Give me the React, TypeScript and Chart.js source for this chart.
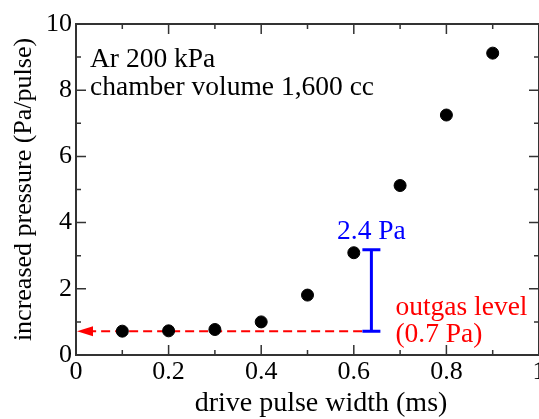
import React, { useEffect, useRef } from "react";
import { Chart, registerables } from "chart.js";

Chart.register(...registerables);

const pulseWidths = [0.1, 0.2, 0.3, 0.4, 0.5, 0.6, 0.7, 0.8, 0.9];
const pressures = [0.72, 0.73, 0.77, 1.0, 1.81, 3.09, 5.12, 7.25, 9.12];
const xTickValues = [0, 0.2, 0.4, 0.6, 0.8, 1];
const xTickLabels = ["0", "0.2", "0.4", "0.6", "0.8", "1"];
const yTickValues = [0, 2, 4, 6, 8, 10];
const yTickLabels = ["0", "2", "4", "6", "8", "10"];
const outgasLevel = 0.72;
const errorBarX = 0.638;
const errorBarTop = 3.18;
const xAxisTitle = "drive pulse width (ms)";
const yAxisTitle = "increased pressure (Pa/pulse)";
const annotationLines = ["Ar 200 kPa", "chamber volume 1,600 cc"];
const errorBarLabel = "2.4 Pa";
const outgasLines = ["outgas level", "(0.7 Pa)"];

const FONT = '"Liberation Serif", Tinos, "Times New Roman", Times, serif';
const TICK_FS = 26;
const TEXT_FS = 27.5;

const framePlugin = {
  id: "framePlugin",
  afterDraw(chart: any) {
    const { ctx, chartArea: a, scales } = chart;
    const xs = scales.x;
    const ys = scales.y;
    ctx.save();
    ctx.strokeStyle = "#333";
    ctx.lineWidth = 2;
    ctx.strokeRect(a.left, a.top, a.right - a.left, a.bottom - a.top);
    ctx.lineWidth = 1.5;
    ctx.beginPath();
    for (let i = 0; i <= 10; i++) {
      const px = xs.getPixelForValue(i / 10);
      const len = i % 2 === 0 ? 10 : 5;
      ctx.moveTo(px, a.bottom);
      ctx.lineTo(px, a.bottom - len);
      ctx.moveTo(px, a.top);
      ctx.lineTo(px, a.top + len);
    }
    for (let i = 0; i <= 10; i++) {
      const py = ys.getPixelForValue(i);
      const len = i % 2 === 0 ? 10 : 5;
      ctx.moveTo(a.left, py);
      ctx.lineTo(a.left + len, py);
      ctx.moveTo(a.right, py);
      ctx.lineTo(a.right - len, py);
    }
    ctx.stroke();

    const bx = xs.getPixelForValue(errorBarX);
    ctx.strokeStyle = "#0000ff";
    ctx.lineWidth = 3;
    ctx.beginPath();
    for (const v of [errorBarTop, outgasLevel]) {
      const py = ys.getPixelForValue(v);
      ctx.moveTo(bx - 9, py);
      ctx.lineTo(bx + 9, py);
    }
    ctx.stroke();

    const ay = ys.getPixelForValue(outgasLevel);
    const ax = xs.getPixelForValue(0);
    ctx.fillStyle = "#ff0000";
    ctx.beginPath();
    ctx.moveTo(ax + 1, ay);
    ctx.lineTo(ax + 17, ay - 5);
    ctx.lineTo(ax + 17, ay + 5);
    ctx.closePath();
    ctx.fill();

    ctx.textBaseline = "alphabetic";
    ctx.fillStyle = "#000";
    ctx.font = `28px ${FONT}`;
    ctx.textAlign = "center";
    ctx.fillText(xAxisTitle, a.left + 245, a.bottom + 56);

    ctx.font = `${TEXT_FS}px ${FONT}`;
    ctx.textAlign = "left";
    ctx.fillText(annotationLines[0], a.left + 14, a.top + 43);
    ctx.fillText(annotationLines[1], a.left + 14, a.top + 71);

    ctx.fillStyle = "#0000ff";
    ctx.textAlign = "center";
    ctx.fillText(errorBarLabel, bx, ys.getPixelForValue(errorBarTop) - 11);

    ctx.fillStyle = "#ff0000";
    ctx.textAlign = "left";
    ctx.fillText(outgasLines[0], bx + 24, ay - 16);
    ctx.fillText(outgasLines[1], bx + 24, ay + 11);
    ctx.restore();
  },
};

export default function App() {
  const ref = useRef<HTMLCanvasElement>(null);
  useEffect(() => {
    if (!ref.current) return;
    const chart = new Chart(ref.current, {
      type: "scatter",
      data: {
        datasets: [
          {
            data: pulseWidths.map((x, i) => ({ x, y: pressures[i] })),
            backgroundColor: "#000",
            borderColor: "#000",
            pointRadius: 6,
            pointHoverRadius: 6,
            order: 0,
          },
          {
            type: "line",
            data: [
              { x: errorBarX, y: outgasLevel },
              { x: errorBarX, y: errorBarTop },
            ],
            borderColor: "#0000ff",
            borderWidth: 3,
            pointRadius: 0,
            order: 1,
          } as any,
          {
            type: "line",
            data: [
              { x: errorBarX - 0.02, y: outgasLevel },
              { x: 0.035, y: outgasLevel },
            ],
            borderColor: "#ff0000",
            borderWidth: 2,
            borderDash: [9, 5],
            pointRadius: 0,
            order: 2,
          } as any,
        ],
      },
      options: {
        animation: false,
        responsive: false,
        events: [],
        layout: { padding: { top: 24, right: 21, left: 0, bottom: 0 } },
        plugins: { legend: { display: false }, tooltip: { enabled: false } },
        scales: {
          x: {
            type: "linear",
            min: 0,
            max: 1,
            afterBuildTicks: (s: any) => {
              s.ticks = xTickValues.map((v) => ({ value: v }));
            },
            afterFit: (s: any) => {
              s.height = 64;
            },
            ticks: {
              callback: (v: any) => {
                const i = xTickValues.indexOf(Number(v));
                return i >= 0 ? xTickLabels[i] : "";
              },
              font: { family: FONT, size: TICK_FS },
              color: "#000",
              padding: 2,
              maxRotation: 0,
              autoSkip: false,
            },
            grid: { display: false, drawTicks: false },
            border: { display: false },
            title: { display: false },
          },
          y: {
            type: "linear",
            min: 0,
            max: 10,
            afterBuildTicks: (s: any) => {
              s.ticks = yTickValues.map((v) => ({ value: v }));
            },
            afterFit: (s: any) => {
              s.width = 76;
            },
            ticks: {
              callback: (v: any) => {
                const i = yTickValues.indexOf(Number(v));
                return i >= 0 ? yTickLabels[i] : "";
              },
              font: { family: FONT, size: TICK_FS },
              color: "#000",
              padding: 4,
              autoSkip: false,
            },
            grid: { display: false, drawTicks: false },
            border: { display: false },
            title: {
              display: true,
              text: yAxisTitle,
              font: { family: FONT, size: 26 },
              color: "#000",
              padding: { top: 9, bottom: 0 },
            },
          },
        },
      },
      plugins: [framePlugin],
    });
    return () => chart.destroy();
  }, []);
  return (
    <div
      style={{
        position: "fixed",
        left: 0,
        top: 0,
        width: 539,
        height: 419,
        overflow: "hidden",
        background: "#fff",
      }}
    >
      <canvas ref={ref} width={560} height={419} style={{ display: "block" }} />
    </div>
  );
}
